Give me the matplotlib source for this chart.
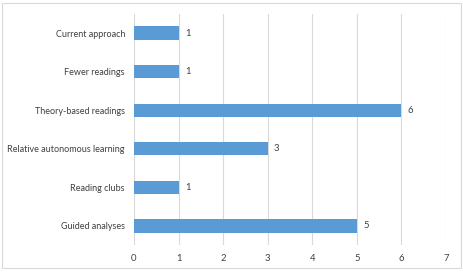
import matplotlib.pyplot as plt
from matplotlib.patches import Rectangle

categories = ['Current approach', 'Fewer readings', 'Theory-based readings',
              'Relative autonomous learning', 'Reading clubs', 'Guided analyses']
values = [1, 1, 6, 3, 1, 5]

plt.rcParams['font.family'] = ['Lato', 'DejaVu Sans']
text_color = '#404040'

fig = plt.figure(figsize=(4.63, 2.72), dpi=100)
ax = fig.add_axes([0.2894, 0.0982, 0.674, 0.8514])

# Excel draws the first category at the top
ypos = list(range(len(categories)))[::-1]
ax.barh(ypos, values, height=0.34, color='#5B9BD5', zorder=3)
for y, v in zip(ypos, values):
    ax.text(v + 0.14, y, str(v), va='center', ha='left', fontsize=6.8, color=text_color)

ax.set_xlim(0, 7)
ax.set_ylim(-0.5, len(categories) - 0.5)
ax.set_xticks(range(8))
ax.set_yticks(ypos)
ax.set_yticklabels(categories)
ax.tick_params(axis='both', length=0, labelsize=6.5, colors=text_color)
ax.tick_params(axis='x', labelsize=6.8)
ax.tick_params(axis='y', pad=6.5)
ax.tick_params(axis='x', pad=6)
ax.grid(axis='x', color='#d9d9d9', linewidth=0.8, zorder=0)
for s in ax.spines.values():
    s.set_visible(False)

# chart border
fig.patches.append(Rectangle((0.005, 0.015), 0.99, 0.975, transform=fig.transFigure,
                             fill=False, edgecolor='#d9d9d9', linewidth=0.8))

fig.savefig('out.png', dpi=100)
